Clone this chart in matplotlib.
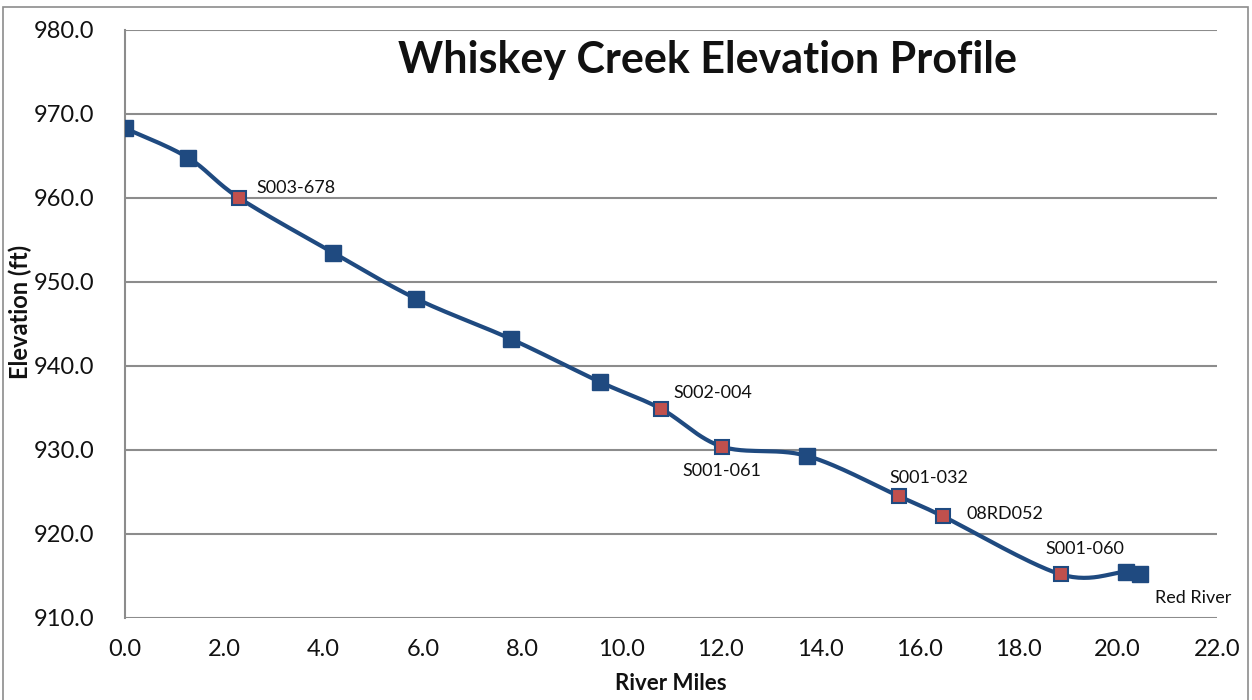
import matplotlib
matplotlib.use("Agg")
import matplotlib.pyplot as plt
import numpy as np

# river mile, elevation (ft)
miles = [0.0, 1.27, 2.30, 4.19, 5.87, 7.78, 9.57, 10.80, 12.03, 13.74, 15.59, 16.48, 18.85, 20.16, 20.44]
elev = [968.3, 964.8, 960.0, 953.5, 948.0, 943.2, 938.1, 934.9, 930.4, 929.3, 924.5, 922.1, 915.2, 915.5, 915.2]
sites = ["", "", "S003-678", "", "", "", "", "S002-004", "S001-061", "", "S001-032", "08RD052", "S001-060", "", "Red River"]
sampled = [False, False, True, False, False, False, False, True, True, False, True, True, True, False, False]
# label offsets in pixels (dx, dy, ha)
offsets = {
    "S003-678": (17, 10, "left"),
    "S002-004": (12, 16, "left"),
    "S001-061": (0, -24, "center"),
    "S001-032": (-9, 18, "left"),
    "08RD052": (23, 2, "left"),
    "S001-060": (-15, 25, "left"),
    "Red River": (15, -24, "left"),
}

line_col = "#1f4a80"
red_col = "#c0504d"
grid_col = "#8c8c8c"


def smooth(xs, ys, n=30):
    # Catmull-Rom style smoothing like Excel's smoothed line
    xs = np.asarray(xs); ys = np.asarray(ys)
    px = np.concatenate([[xs[0]], xs, [xs[-1]]])
    py = np.concatenate([[ys[0]], ys, [ys[-1]]])
    outx, outy = [], []
    t = np.linspace(0, 1, n)
    for i in range(1, len(px) - 2):
        p0x, p1x, p2x, p3x = px[i - 1:i + 3]
        p0y, p1y, p2y, p3y = py[i - 1:i + 3]
        c1x = p1x + (p2x - p0x) / 6; c1y = p1y + (p2y - p0y) / 6
        c2x = p2x - (p3x - p1x) / 6; c2y = p2y - (p3y - p1y) / 6
        bx = (1 - t) ** 3 * p1x + 3 * (1 - t) ** 2 * t * c1x + 3 * (1 - t) * t ** 2 * c2x + t ** 3 * p2x
        by = (1 - t) ** 3 * p1y + 3 * (1 - t) ** 2 * t * c1y + 3 * (1 - t) * t ** 2 * c2y + t ** 3 * p2y
        outx.extend(bx); outy.extend(by)
    return outx, outy


plt.rcParams['font.family'] = ['Lato', 'DejaVu Sans']

fig = plt.figure(figsize=(12.52, 7.0), dpi=100)
ax = fig.add_axes([125 / 1252, 1 - 618 / 700, (1217 - 125) / 1252, (618 - 30) / 700])

sx, sy = smooth(miles, elev)
ax.plot(sx, sy, color=line_col, lw=3, zorder=3, solid_capstyle="round")

for x, y, s in zip(miles, elev, sampled):
    if s:
        ax.plot(x, y, marker="s", ms=10, mfc=red_col, mec=line_col, mew=1.5, zorder=4)
    else:
        ax.plot(x, y, marker="s", ms=12, mfc=line_col, mec=line_col, zorder=4)

for x, y, name in zip(miles, elev, sites):
    if name:
        dx, dy, ha = offsets[name]
        ax.annotate(name, (x, y), xytext=(dx, dy), textcoords="offset pixels",
                    ha=ha, va="center", fontsize=13, color="#111111")

ax.set_xlim(0, 22)
ax.set_ylim(910, 980)
ax.set_xticks(np.arange(0, 22.1, 2))
ax.set_yticks(np.arange(910, 980.1, 10))
ax.xaxis.set_major_formatter(matplotlib.ticker.FormatStrFormatter("%.1f"))
ax.yaxis.set_major_formatter(matplotlib.ticker.FormatStrFormatter("%.1f"))
ax.tick_params(axis="both", length=0, labelsize=17, colors="#111111")
ax.tick_params(axis="x", pad=15)
ax.tick_params(axis="y", pad=22)
ax.grid(axis="y", color=grid_col, lw=1.5)
ax.set_axisbelow(True)
for side in ["top", "right", "bottom"]:
    ax.spines[side].set_visible(False)
ax.spines["left"].set_color(grid_col)
ax.spines["left"].set_linewidth(1.5)

fig.text(708 / 1252, 1 - 60 / 700, "Whiskey Creek Elevation Profile", ha="center", va="center",
         fontsize=31, fontweight="bold", color="#111111")
fig.text(671 / 1252, 1 - 684 / 700, "River Miles", ha="center", va="center",
         fontsize=16, fontweight="bold", color="#111111")
fig.text(20 / 1252, 1 - 312 / 700, "Elevation (ft)", ha="center", va="center", rotation=90,
         fontsize=17, fontweight="bold", color="#111111")

# outer chart border
fig.add_artist(plt.Rectangle((0.002, -0.01), 0.995, 1.0, transform=fig.transFigure,
                             fill=False, ec="#8c8c8c", lw=1.2))

fig.savefig("out.png", dpi=100)
